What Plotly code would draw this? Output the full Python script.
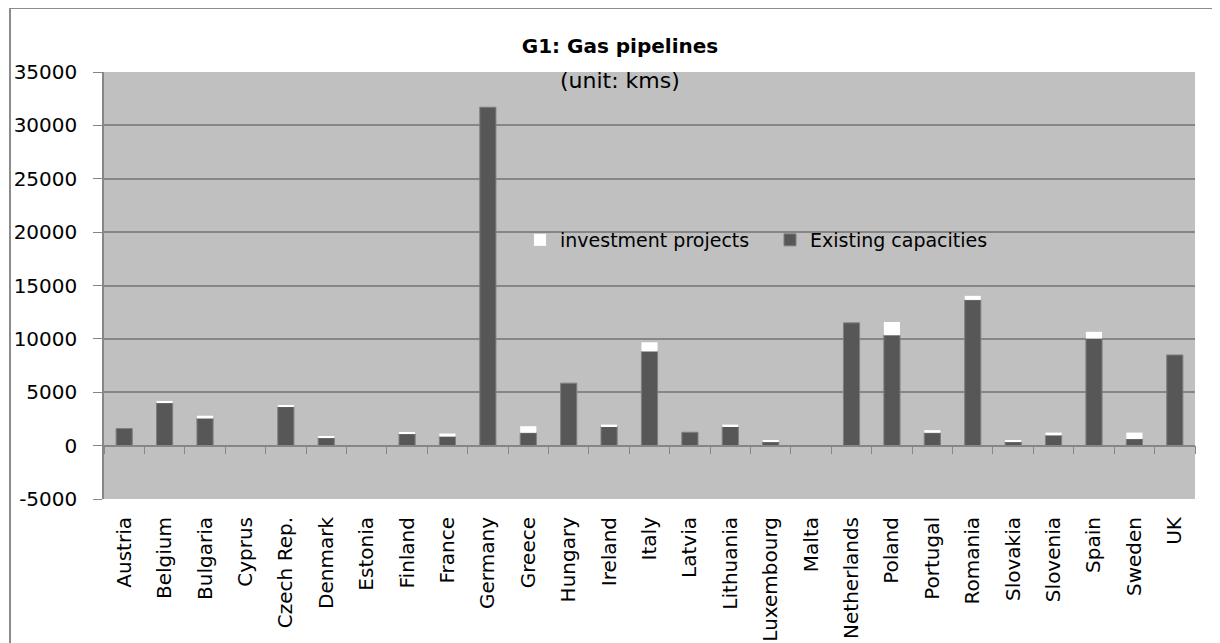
import plotly.graph_objects as go

countries = ["Austria", "Belgium", "Bulgaria", "Cyprus", "Czech Rep.", "Denmark",
             "Estonia", "Finland", "France", "Germany", "Greece", "Hungary",
             "Ireland", "Italy", "Latvia", "Lithuania", "Luxembourg", "Malta",
             "Netherlands", "Poland", "Portugal", "Romania", "Slovakia",
             "Slovenia", "Spain", "Sweden", "UK"]

# existing network length per country (km)
existing = [1600, 4000, 2550, 0, 3650, 720, 0, 1100, 850, 31700, 1200, 5850,
            1820, 8830, 1250, 1820, 340, 0, 11500, 10350, 1200, 13650, 340,
            970, 10030, 620, 8490]

# planned additions (km)
investment = [0, 150, 250, 0, 150, 150, 0, 150, 280, 0, 620, 0, 150, 850, 0,
              150, 150, 0, 0, 1230, 250, 380, 150, 250, 630, 600, -100]

y_ticks = [-5000, 0, 5000, 10000, 15000, 20000, 25000, 30000, 35000]
y_ticktext = ["-5000", "0", "5000", "10000", "15000", "20000", "25000", "30000", "35000"]

FONT = "DejaVu Sans"
GRID = "#868686"

# the html page body has an 8px margin, so shift everything up/left by that
OFF = 8
FW, FH = 1220 - OFF, 643 - OFF
L, T = 104 - OFF, 72 - OFF
W, H = 1091, 427
R, B = FW - L - W, FH - T - H

fig = go.Figure()
fig.add_trace(go.Bar(
    x=countries, y=existing, name="Existing capacities",
    marker=dict(color="#575757", line=dict(color="#7f7f7f", width=1)),
))
fig.add_trace(go.Bar(
    x=countries, y=investment, name="investment projects",
    marker=dict(color="white", line=dict(width=0)),
))
# invisible trace so the zero-line axis (x2) gets drawn
fig.add_trace(go.Scatter(
    x=countries, y=existing, xaxis="x2", mode="markers",
    marker=dict(opacity=0), showlegend=False, hoverinfo="skip",
))

fig.update_layout(
    width=FW, height=FH,
    margin=dict(l=L, r=R, t=T, b=B),
    paper_bgcolor="white",
    plot_bgcolor="#c0c0c0",
    barmode="relative",
    bargap=0.6,
    font=dict(family=FONT, size=19, color="black"),
    title=dict(
        text="<b>G1: Gas pipelines</b>",
        x=(620 - OFF) / FW, xanchor="center", xref="container",
        y=1 - (46 - OFF) / FH, yanchor="middle", yref="container",
        font=dict(family=FONT, size=20, color="black"),
    ),
    annotations=[dict(
        text="(unit: kms)", xref="paper", yref="paper",
        x=(620 - OFF - L) / W, y=(H + T - (80 - OFF)) / H,
        xanchor="center", yanchor="middle",
        showarrow=False, font=dict(family=FONT, size=22, color="black"),
    )],
    legend=dict(
        orientation="h", traceorder="reversed",
        x=(520 - OFF - L) / W, xanchor="left",
        y=(H + T - (240 - OFF)) / H, yanchor="middle",
        bgcolor="rgba(0,0,0,0)", font=dict(family=FONT, size=19),
        entrywidth=205, entrywidthmode="pixels",
    ),
    xaxis=dict(
        range=[-0.5, 26.5], tickangle=-90, ticks="", showgrid=False,
        ticklabelstandoff=13, automargin=False,
        tickfont=dict(family=FONT, size=20),
    ),
    xaxis2=dict(
        overlaying="x", anchor="free", position=5000 / 40000, side="bottom",
        range=[-0.5, 26.5], showticklabels=False, showgrid=False,
        showline=True, linecolor=GRID, linewidth=1.5,
        ticks="outside", tickson="boundaries", ticklen=8, tickcolor=GRID,
    ),
    yaxis=dict(
        range=[-5000, 35000], tickvals=y_ticks, ticktext=y_ticktext,
        showgrid=True, gridcolor=GRID, gridwidth=1.5, zeroline=False,
        showline=True, linecolor=GRID, linewidth=1.5,
        ticks="outside", ticklen=9, tickcolor=GRID,
        ticklabelstandoff=12, automargin=False,
        tickfont=dict(family=FONT, size=20),
    ),
    shapes=[dict(
        type="rect", xref="paper", yref="paper",
        x0=(10 - OFF - L) / W, x1=(1218 - OFF - L) / W,
        y0=-(B + 20) / H, y1=(H + T - (8 - OFF)) / H,
        line=dict(color="#8c8c8c", width=2), fillcolor="rgba(0,0,0,0)", layer="below",
    )],
)

fig.write_html("out.html")
